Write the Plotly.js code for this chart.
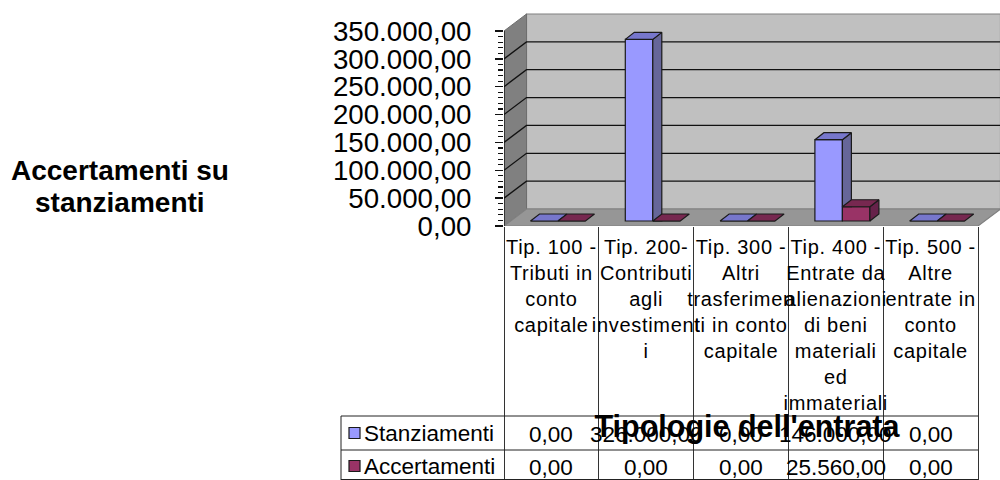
<!DOCTYPE html>
<html>
<head>
<meta charset="utf-8">
<script src="https://cdn.plot.ly/plotly-3.0.1.min.js"></script>
<style>html,body{margin:0;padding:0;background:#fff}#c{width:1000px;height:480px}
#c .xtick text{letter-spacing:0.7px}
#c .xtitle{transform:translate(-5px,-5px)}</style>
</head>
<body>
<div id="c"></div>
<script>
var categories = [
  "Tip. 100 -<br>Tributi in<br>conto<br>capitale",
  "Tip. 200-<br>Contributi<br>agli<br>investiment<br>i",
  "Tip. 300 -<br>Altri<br>trasferimen<br>ti in conto<br>capitale",
  "Tip. 400 -<br>Entrate da<br>alienazioni<br>di beni<br>materiali<br>ed<br>immateriali",
  "Tip. 500 -<br>Altre<br>entrate in<br>conto<br>capitale"
];
var seriesNames = ["Stanziamenti", "Accertamenti"];
var stanziamenti = [0, 326000, 0, 146000, 0];
var accertamenti = [0, 0, 0, 25560, 0];
var valueTicks = [0, 50000, 100000, 150000, 200000, 250000, 300000, 350000];
var valueTickLabels = ["0,00","50.000,00","100.000,00","150.000,00","200.000,00","250.000,00","300.000,00","350.000,00"];
var minorValueTicks = [];
for (var t = 0; t <= 350000; t += 10000) { if (t % 50000) minorValueTicks.push(t); }

var W = 1000, H = 480;
var frontLeft = 504, frontBase = 226, frontTop = 31, catPx = 94.8;
var unitPx = (frontBase - frontTop) / 350000;      // pixels per value unit
var wallDX = 22.5 / catPx, wallDY = 17 / unitPx;   // oblique offset of the back wall
var planeDX = 6.5 / catPx, planeDY = 5 / unitPx;   // offset of the bar plane
var barDX = 9 / catPx, barDY = 7 / unitPx;         // bar depth
var barW = 27.5 / catPx, gapW = 20 / catPx;
var blue = {front:"#9999FF", side:"#666699", top:"#7777CC"};
var red  = {front:"#993366", side:"#66224A", top:"#772850"};
var edge = "#1a1a1a";

function fmt(v){
  var s = v.toFixed(2).split(".");
  return s[0].replace(/\B(?=(\d{3})+(?!\d))/g, ".") + "," + s[1];
}
function frontX(i, s){ return i + planeDX + gapW + s * barW; }
function poly(list){ // list of closed polygons in data units
  var x = [], y = [];
  list.forEach(function(p){
    p.forEach(function(q){ x.push(q[0]); y.push(q[1]); });
    x.push(p[0][0]); y.push(p[0][1]); x.push(null); y.push(null);
  });
  return {x:x, y:y};
}
function faceTrace(list, color){
  var p = poly(list);
  return {type:"scatter", mode:"lines", x:p.x, y:p.y, fill:"toself", fillcolor:color,
          line:{color:edge, width:1.2}, hoverinfo:"skip", showlegend:false};
}
function barTrace(vals, s, name, c){
  return {type:"bar", name:name, y:vals, base:vals.map(function(){return planeDY;}),
          x:vals.map(function(v,i){return frontX(i,s) + barW/2;}), width:barW,
          marker:{color:c.front, line:{color:edge, width:1.2}}, showlegend:false, hoverinfo:"y"};
}
function sideFaces(vals, s, hide){
  return vals.map(function(v,i){
    var x = frontX(i,s) + barW, lo = planeDY + (hide ? hide[i] : 0), hi = planeDY + v;
    return [[x,lo],[x+barDX,lo],[x+barDX,hi+barDY],[x,hi]];
  }).filter(function(p,i){ return vals[i] > 0; });
}
function topFaces(vals, s){
  return vals.map(function(v,i){
    var x = frontX(i,s), y = planeDY + v;
    return [[x,y],[x+barW,y],[x+barW+barDX,y+barDY],[x+barDX,y+barDY]];
  });
}
var redSide = accertamenti.map(function(v,i){
  var x = frontX(i,1) + barW, lo = planeDY, hi = planeDY + v;
  return [[x,lo],[x+barDX,lo+barDY],[x+barDX,hi+barDY],[x,hi]];
}).filter(function(p,i){ return accertamenti[i] > 0; });

var data = [
  barTrace(stanziamenti, 0, seriesNames[0], blue),
  barTrace(accertamenti, 1, seriesNames[1], red),
  faceTrace(sideFaces(stanziamenti, 0, accertamenti), blue.side),
  faceTrace(topFaces(stanziamenti, 0), blue.top),
  faceTrace(redSide, red.side),
  faceTrace(topFaces(accertamenti, 1), red.top)
];

var n = categories.length;
function path(pts){ return "M" + pts.map(function(p){return p[0]+","+p[1];}).join("L") + "Z"; }
function openPath(pts){ return "M" + pts.map(function(p){return p[0]+","+p[1];}).join("L"); }
var shapes = [
  {type:"path", layer:"below", xref:"x", yref:"y", fillcolor:"#C0C0C0", line:{color:"#808080",width:1.2},
   path:path([[wallDX,wallDY],[n+wallDX,wallDY],[n+wallDX,350000+wallDY],[wallDX,350000+wallDY]])},
  {type:"path", layer:"below", xref:"x", yref:"y", fillcolor:"#808080", line:{color:"#6e6e6e",width:1},
   path:path([[0,0],[wallDX,wallDY],[wallDX,350000+wallDY],[0,350000]])},
  {type:"path", layer:"below", xref:"x", yref:"y", fillcolor:"#969696", line:{color:"#808080",width:1.2},
   path:path([[0,0],[n,0],[n+wallDX,wallDY],[wallDX,wallDY]])}
];
valueTicks.slice(1,-1).forEach(function(v){
  shapes.push({type:"path", layer:"below", xref:"x", yref:"y", line:{color:"#111",width:1.3},
    path:openPath([[0,v],[wallDX,v+wallDY],[n+wallDX,v+wallDY]])});
});
// value axis line
shapes.push({type:"line", xref:"x", yref:"y", x0:0, x1:0, y0:0, y1:350000, line:{color:"#111",width:1.3}});

// data table
function py(p){ return 1 - p / H; }
var tableLeft = 341, rowTops = [416, 450, 479.5], rowMid = [433, 466];
rowTops.forEach(function(p){
  shapes.push({type:"line", xref:"paper", yref:"paper", x0:tableLeft/W, x1:(frontLeft+n*catPx)/W, y0:py(p), y1:py(p), line:{color:"#222",width:1}});
});
shapes.push({type:"line", xref:"paper", yref:"paper", x0:tableLeft/W, x1:tableLeft/W, y0:py(416), y1:py(480), line:{color:"#222",width:1}});
[blue, red].forEach(function(c,r){
  shapes.push({type:"rect", xref:"paper", yref:"paper", x0:349/W, x1:360/W, y0:py(rowMid[r]-5.5), y1:py(rowMid[r]+5.5),
    fillcolor:c.front, line:{color:"#1a1a1a",width:1.2}});
});
var titleFont = {family:"Liberation Sans", size:28, color:"#000"};
var annotations = [
  {xref:"paper", yref:"paper", x:119.5/W, y:py(170), xanchor:"center", yanchor:"middle", showarrow:false,
   text:"<b>Accertamenti su</b>", font:titleFont},
  {xref:"paper", yref:"paper", x:119.5/W, y:py(202), xanchor:"center", yanchor:"middle", showarrow:false,
   text:"<b>stanziamenti</b>", font:titleFont}
];
var tf = {family:"Liberation Sans", size:22.5, color:"#000"};
seriesNames.forEach(function(name,r){
  annotations.push({xref:"paper", yref:"paper", x:362/W, y:py(rowMid[r]), xanchor:"left", yanchor:"middle",
    showarrow:false, text:name, font:tf});
});
[stanziamenti, accertamenti].forEach(function(vals,r){
  vals.forEach(function(v,i){
    annotations.push({xref:"x", yref:"paper", x:i+0.5, y:py(rowMid[r]+1), xanchor:"center", yanchor:"middle",
      showarrow:false, text:fmt(v), font:tf});
  });
});

var layout = {
  width:W, height:H, autosize:false, showlegend:false, barmode:"overlay",
  paper_bgcolor:"#fff", plot_bgcolor:"rgba(0,0,0,0)",
  margin:{l:0,r:0,t:0,b:0,pad:0},
  font:{family:"Liberation Sans", color:"#000"},
  xaxis:{domain:[frontLeft/W,1], range:[0,(W-frontLeft)/catPx], showgrid:false, zeroline:false, showline:false,
    tickmode:"array", tickvals:categories.map(function(c,i){return i+0.5;}), ticktext:categories,
    ticks:"", tickangle:0, automargin:false, ticklabelstandoff:7, tickfont:{family:"Liberation Sans", size:20, color:"#000"},
    minor:{tickmode:"array", tickvals:categories.map(function(c,i){return i;}).concat([n]), ticks:"outside", ticklen:254, tickwidth:1, tickcolor:"#333", showgrid:false},
    title:{text:"<b>Tipologie dell'entrata</b>", standoff:0, font:{family:"Liberation Sans", size:30.5, color:"#000"}}},
  yaxis:{domain:[1-frontBase/H,1], range:[0,(frontBase)/unitPx], showgrid:false, zeroline:false, showline:false,
    tickmode:"array", tickvals:valueTicks, ticktext:valueTickLabels, ticks:"outside", ticklen:8, tickwidth:1.3, tickcolor:"#111",
    ticklabelstandoff:18, automargin:false, tickfont:{family:"Liberation Sans", size:27.7, color:"#000"},
    minor:{tickmode:"array", tickvals:minorValueTicks, ticks:"outside", ticklen:5, tickwidth:1.2, tickcolor:"#111", showgrid:false}},
  shapes:shapes, annotations:annotations
};
Plotly.newPlot("c", data, layout, {displayModeBar:false, staticPlot:true});
</script>
</body>
</html>
